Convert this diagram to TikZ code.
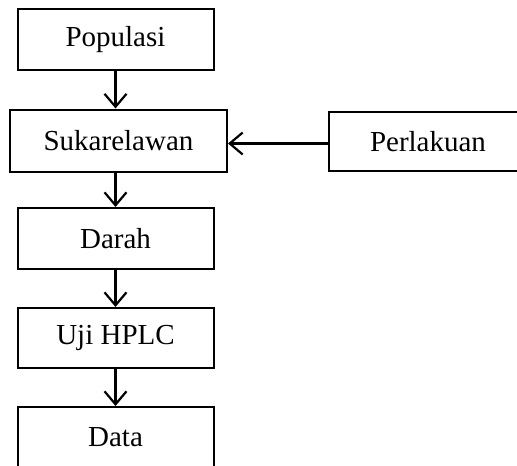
\documentclass[tikz,border=0pt]{standalone}
\usepackage{fontspec}
\setmainfont{Liberation Serif}
\usepackage{tikz}
\usetikzlibrary{arrows.meta}

\begin{document}
\begin{tikzpicture}[x=1pt,y=-1pt]
                \clip (0,0) rectangle (517,466);
                \begin{scope}[every node/.style={draw, line width=2pt, rectangle, minimum width=196pt, minimum height=61pt, inner sep=0, font=\fontsize{29}{34}\selectfont}, every edge/.style={draw, line width=2.2pt, -{Straight Barb[length=13pt,width=22pt,line width=2.2pt]}}]
                        \node (P) at (115.5,39.5) {Populasi};
                        \node[minimum width=217pt, minimum height=62pt] (S) at (118.5,140.5) {Sukarelawan};
                        \node[minimum width=198pt, minimum height=59pt] (L) at (428,141.5) {Perlakuan};
                        \node (D) at (115.5,238.5) {Darah};
                        \node[minimum height=60pt] (U) at (115.5,338) {Uji HPLC};
                        \node (T) at (115.5,437.5) {Data};

                        \path (P) edge (P |- S.north);
                        \path (L.west |- 0,143.5) edge (S.east |- 0,143.5);
                        \path (S.south -| P) edge (D);
                        \path (D) edge (U);
                        \path (U) edge (T);
               \end{scope}
        \end{tikzpicture}
\end{document}
